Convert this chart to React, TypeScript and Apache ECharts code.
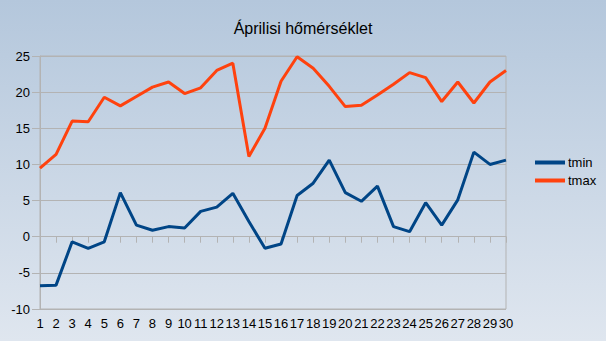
import React, { useEffect, useRef } from "react";
import * as echarts from "echarts";

const days = Array.from({ length: 30 }, (_, i) => String(i + 1));
const tmin = [-6.8, -6.7, -0.7, -1.6, -0.7, 6.1, 1.6, 0.9, 1.4, 1.2, 3.5, 4.1, 6.0, 2.1, -1.6, -1.0, 5.7, 7.4, 10.6, 6.1, 4.9, 7.0, 1.4, 0.7, 4.7, 1.6, 5.1, 11.7, 10.0, 10.6];
const tmax = [9.5, 11.4, 16.0, 15.9, 19.3, 18.1, 19.4, 20.7, 21.4, 19.8, 20.6, 23.0, 24.0, 11.1, 15.0, 21.5, 24.9, 23.3, 20.8, 18.0, 18.2, 19.6, 21.1, 22.7, 22.0, 18.7, 21.4, 18.5, 21.4, 23.0];
const title = "Áprilisi hőmérséklet";

export default function App() {
  const ref = useRef<HTMLDivElement>(null);
  useEffect(() => {
    if (!ref.current) return;
    const chart = echarts.init(ref.current, undefined, { renderer: "svg" });
    const font = "Liberation Sans";
    chart.setOption({
      animation: false,
      backgroundColor: {
        type: "linear", x: 0, y: 0, x2: 0, y2: 1,
        colorStops: [
          { offset: 0, color: "#b4c7dc" },
          { offset: 1, color: "#dfe6ef" },
        ],
      },
      textStyle: { fontFamily: font },
      title: {
        text: title,
        left: "center",
        top: 15,
        textStyle: { fontFamily: font, fontSize: 16, fontWeight: "normal", color: "#000" },
      },
      legend: {
        orient: "vertical",
        left: 530,
        top: 151,
        icon: "rect",
        itemWidth: 30,
        itemHeight: 4,
        itemGap: 5,
        textStyle: { fontFamily: font, fontSize: 13, color: "#000", padding: [0, 0, 0, -2] },
        data: ["tmin", "tmax"],
      },
      grid: {
        left: 40, right: 100, top: 56, bottom: 32,
        show: true, borderColor: "#b3b3b3", borderWidth: 1,
      },
      xAxis: {
        type: "category",
        data: days,
        boundaryGap: false,
        axisLine: { lineStyle: { color: "#b3b3b3" } },
        axisTick: { show: true, length: 6, lineStyle: { color: "#b3b3b3" }, interval: 0 },
        axisLabel: { interval: 0, color: "#000", fontFamily: font, fontSize: 13, margin: 8 },
      },
      yAxis: {
        type: "value",
        min: -10, max: 25, interval: 5,
        axisLine: { show: true, lineStyle: { color: "#b3b3b3" } },
        axisTick: { show: true, length: 8, lineStyle: { color: "#b3b3b3" } },
        splitLine: { lineStyle: { color: "#b3b3b3" } },
        axisLabel: { color: "#000", fontFamily: font, fontSize: 13, margin: 10 },
      },
      series: [
        { name: "tmin", type: "line", data: tmin, symbol: "none", lineStyle: { color: "#004586", width: 3 }, itemStyle: { color: "#004586" } },
        { name: "tmax", type: "line", data: tmax, symbol: "none", lineStyle: { color: "#ff420e", width: 3 }, itemStyle: { color: "#ff420e" } },
      ],
    });
    return () => chart.dispose();
  }, []);
  return <div ref={ref} style={{ width: 606, height: 341, position: "absolute", left: 0, top: 0 }} />;
}
